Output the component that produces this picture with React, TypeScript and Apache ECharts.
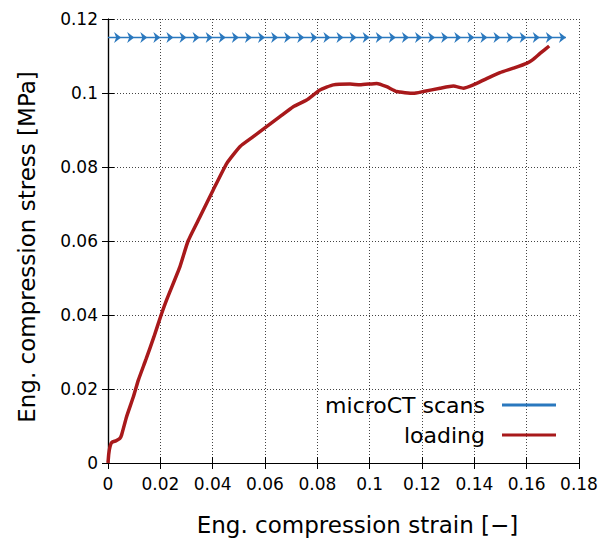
import React, { useEffect, useRef } from "react";
import * as echarts from "echarts";

const xTicks = ["0", "0.02", "0.04", "0.06", "0.08", "0.1", "0.12", "0.14", "0.16", "0.18"];
const yTicks = ["0", "0.02", "0.04", "0.06", "0.08", "0.1", "0.12"];

const scanStrain = [
  0, 0.005, 0.01, 0.015, 0.02, 0.025, 0.03, 0.035, 0.04, 0.045, 0.05, 0.055,
  0.06, 0.065, 0.07, 0.075, 0.08, 0.085, 0.09, 0.095, 0.1, 0.105, 0.11, 0.115,
  0.12, 0.125, 0.13, 0.135, 0.14, 0.145, 0.15, 0.155, 0.16, 0.165, 0.17, 0.175,
];
const scanStress = [
  0.115, 0.115, 0.115, 0.115, 0.115, 0.115, 0.115, 0.115, 0.115, 0.115, 0.115, 0.115,
  0.115, 0.115, 0.115, 0.115, 0.115, 0.115, 0.115, 0.115, 0.115, 0.115, 0.115, 0.115,
  0.115, 0.115, 0.115, 0.115, 0.115, 0.115, 0.115, 0.115, 0.115, 0.115, 0.115, 0.115,
];

const loadStrain = [
  0, 0.0003, 0.0008, 0.0015, 0.003, 0.0045, 0.0052, 0.0071, 0.0097, 0.0116, 0.0145, 0.0175,
  0.0203, 0.0224, 0.0275, 0.0306, 0.0352, 0.0402, 0.0454, 0.0504, 0.0555, 0.0606,
  0.0657, 0.0708, 0.0759, 0.081, 0.0861, 0.0925, 0.0963, 0.1027, 0.1065, 0.1103,
  0.1167, 0.1205, 0.1269, 0.132, 0.1358, 0.1396, 0.1447, 0.1498, 0.1549, 0.16,
  0.1625, 0.1651, 0.1686,
];
const loadStress = [
  0, 0.0025, 0.0045, 0.0056, 0.006, 0.0066, 0.0076, 0.0125, 0.0179, 0.0224, 0.028, 0.034,
  0.04, 0.0441, 0.0531, 0.06, 0.0666, 0.0738, 0.081, 0.0855, 0.0882, 0.0909,
  0.0936, 0.0963, 0.0981, 0.1008, 0.1022, 0.1024, 0.1022, 0.1026, 0.1017, 0.1004,
  0.0999, 0.1004, 0.1013, 0.1019, 0.1013, 0.1022, 0.1039, 0.1055, 0.1067, 0.108,
  0.1091, 0.1107, 0.1127,
];

const BLUE = "#2a78be";
const RED = "#a8191b";
const FONT = "DejaVu Sans";

export default function App() {
  const ref = useRef<HTMLDivElement>(null);
  useEffect(() => {
    if (!ref.current) return;
    const chart = echarts.init(ref.current, null, { renderer: "svg" });
    const scanData = scanStrain.map((x, i) =>
      i === 0 ? { value: [x, scanStress[i]], symbol: "none" } : { value: [x, scanStress[i]] }
    );
    const loadData = loadStrain.map((x, i) => [x, loadStress[i]]);
    const xFmt = (v: number) => xTicks[Math.round(v / 0.02)] ?? "";
    const yFmt = (v: number) => yTicks[Math.round(v / 0.02)] ?? "";
    const split = { show: true, lineStyle: { color: "#444", type: [1, 2], width: 1 } };
    const axLine = { show: true, lineStyle: { color: "#000", width: 1.2 } };
    const tick = { show: true, inside: true, length: 6, lineStyle: { color: "#000" } };
    chart.setOption({
      animation: false,
      textStyle: { fontFamily: FONT },
      grid: { left: 108, right: 37, top: 19, bottom: 79 },
      xAxis: [
        {
          type: "value",
          min: 0,
          max: 0.18,
          interval: 0.02,
          name: "Eng. compression strain [−]",
          nameLocation: "middle",
          nameGap: 50,
          nameTextStyle: { fontSize: 23, color: "#000", fontFamily: FONT, padding: [0, 0, 0, 28] },
          axisLine: axLine,
          axisTick: tick,
          axisLabel: { fontSize: 17, color: "#000", margin: 12, formatter: xFmt, fontFamily: FONT },
          splitLine: split,
        },
        {
          type: "value",
          position: "top",
          min: 0,
          max: 0.18,
          interval: 0.02,
          axisLine: axLine,
          axisTick: tick,
          axisLabel: { show: false },
          splitLine: { show: false },
        },
      ],
      yAxis: [
        {
          type: "value",
          min: 0,
          max: 0.12,
          interval: 0.02,
          name: "Eng. compression stress [MPa]",
          nameLocation: "middle",
          nameGap: 70,
          nameTextStyle: { fontSize: 23, color: "#000", fontFamily: FONT, padding: [0, 12, 0, 0] },
          axisLine: axLine,
          axisTick: tick,
          axisLabel: { fontSize: 17, color: "#000", margin: 10, formatter: yFmt, fontFamily: FONT },
          splitLine: split,
        },
        {
          type: "value",
          position: "right",
          min: 0,
          max: 0.12,
          interval: 0.02,
          axisLine: axLine,
          axisTick: tick,
          axisLabel: { show: false },
          splitLine: { show: false },
        },
      ],
      legend: {
        orient: "vertical",
        align: "right",
        right: 55,
        top: 389,
        itemWidth: 54,
        itemHeight: 3,
        itemGap: 8,
        textStyle: { fontSize: 22, color: "#000", fontFamily: FONT, padding: [0, 12, 0, 0] },
        data: [
          { name: "microCT scans", icon: "rect" },
          { name: "loading", icon: "rect" },
        ],
      },
      series: [
        {
          name: "microCT scans",
          type: "line",
          data: scanData,
          clip: true,
          symbol: "path://M0,0 L10,5 L0,10 L3,5 Z",
          symbolSize: [7, 11],
          symbolOffset: [-3.5, 0],
          showAllSymbol: true,
          lineStyle: { color: BLUE, width: 1.5 },
          itemStyle: { color: BLUE },
          z: 3,
        },
        {
          name: "loading",
          type: "line",
          data: loadData,
          clip: true,
          smooth: 0.15,
          showSymbol: false,
          symbol: "none",
          lineStyle: { color: RED, width: 3.5 },
          itemStyle: { color: RED },
          z: 4,
        },
      ],
    });
    return () => chart.dispose();
  }, []);
  return (
    <div
      ref={ref}
      style={{ position: "fixed", left: 0, top: 0, width: 616, height: 542, background: "#fff" }}
    />
  );
}
